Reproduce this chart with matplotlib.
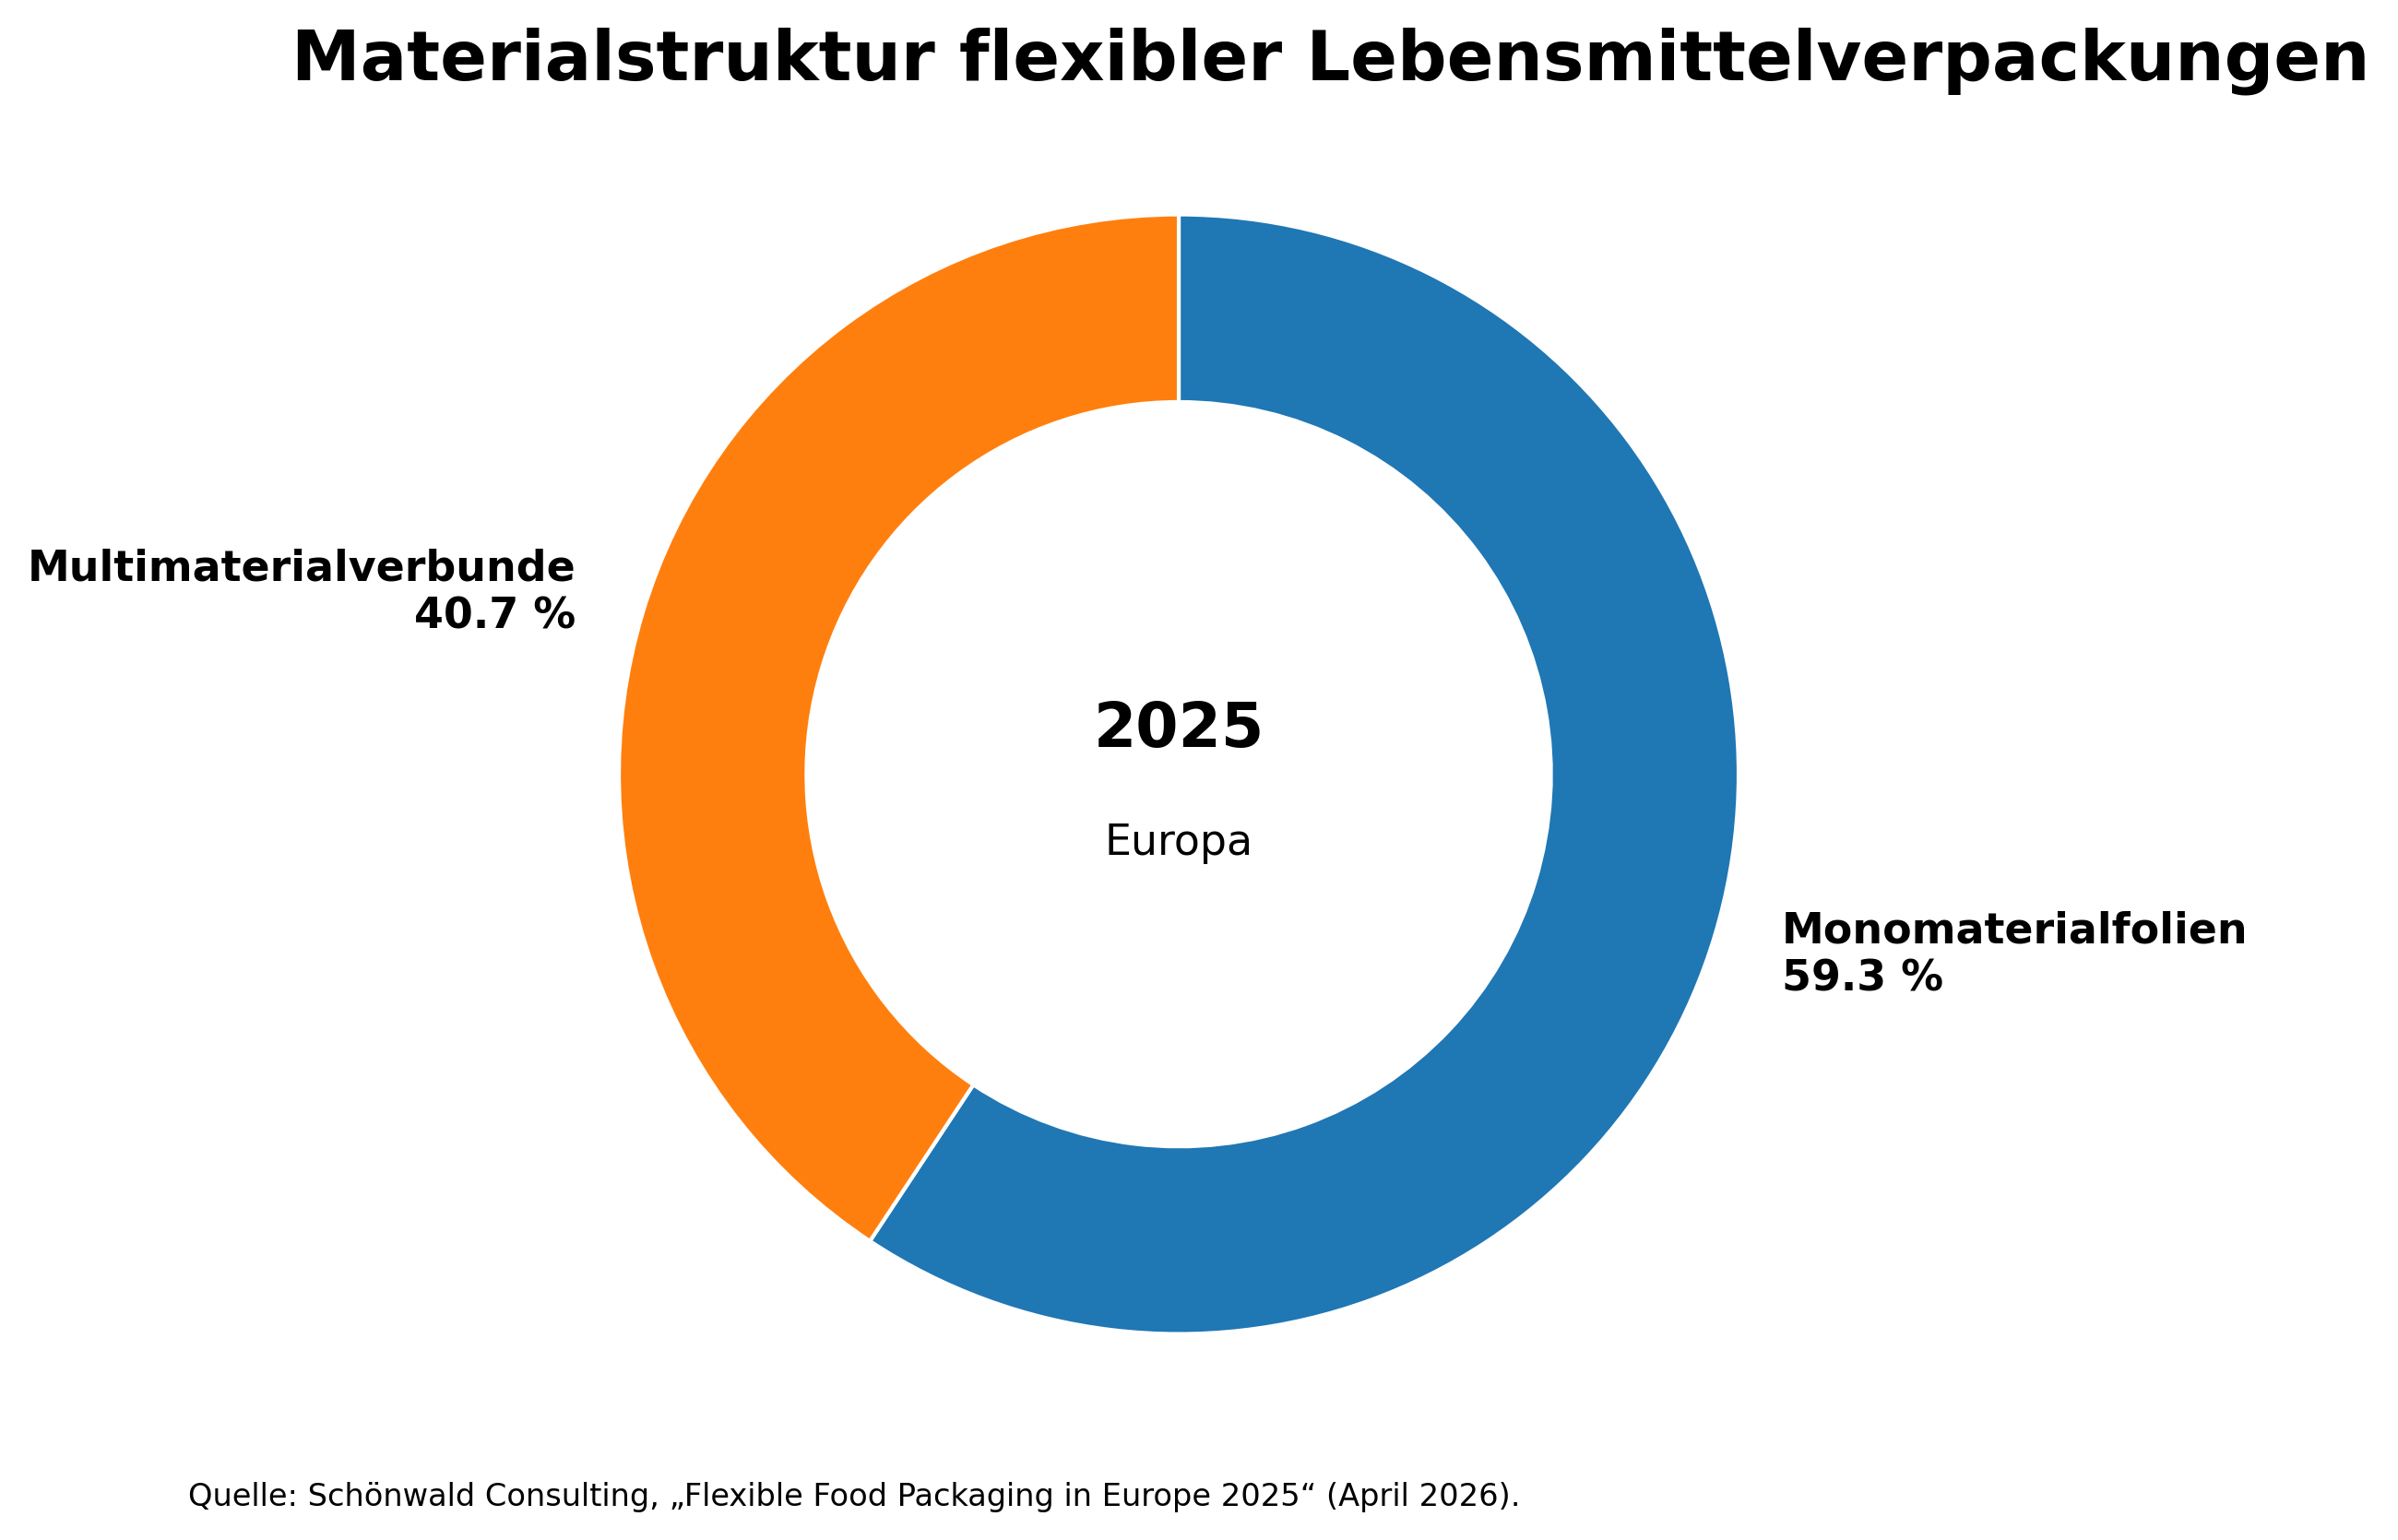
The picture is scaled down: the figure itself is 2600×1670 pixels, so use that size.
"""Donut chart: material structure of flexible food packaging in Europe (2025)."""
import matplotlib as mpl
import matplotlib.pyplot as plt

# ---------------------------------------------------------------------------
# Data
# ---------------------------------------------------------------------------

CATEGORIES = ["Monomaterialfolien", "Multimaterialverbunde"]
SHARES     = [59.3, 40.7]
COLORS     = ["#1f77b4", "#ff7f0e"]

TITLE  = "Materialstruktur flexibler Lebensmittelverpackungen"
YEAR   = "2025"
REGION = "Europa"
SOURCE = ("Quelle: Schönwald Consulting, „Flexible Food Packaging in Europe 2025“ "
          "(April 2026).")

mpl.rcParams.update({"font.family": "DejaVu Sans"})

# ---------------------------------------------------------------------------
# Figure
# ---------------------------------------------------------------------------

fig = plt.figure(figsize=(13.0, 8.35), dpi=200)
ax = fig.add_axes([0.2114, 0.0611, 0.5603, 0.8723])

labels = [f"{c}\n{v:.1f} %" for c, v in zip(CATEGORIES, SHARES)]
ax.pie(
    SHARES,
    labels=labels,
    colors=COLORS,
    startangle=90,
    counterclock=False,
    radius=1.0,
    labeldistance=1.125,
    wedgeprops=dict(width=0.335, edgecolor="white", linewidth=1.5),
    textprops=dict(fontsize=16.5, fontweight="bold"),
)
ax.set_xlim(-1.2, 1.2)
ax.set_ylim(-1.2, 1.2)
ax.set_aspect("equal")
ax.axis("off")

ax.text(0, 0.08, YEAR, ha="center", va="center", fontsize=24, fontweight="bold")
ax.text(0, -0.123, REGION, ha="center", va="center", fontsize=16.5)

fig.text(0.555, 0.948, TITLE, ha="center", va="baseline",
         fontsize=27, fontweight="bold")
fig.text(0.0785, 0.022, SOURCE, ha="left", va="baseline", fontsize=12.1)

fig.savefig("out.png", dpi=200)
plt.close(fig)
